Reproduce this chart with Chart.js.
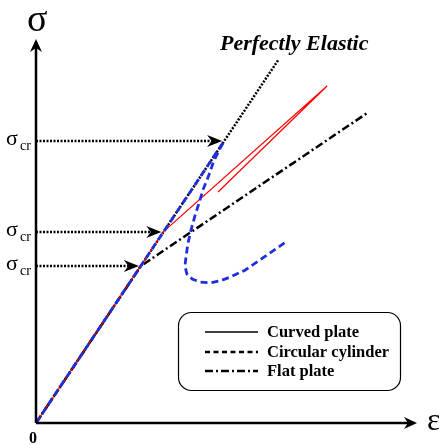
<!DOCTYPE html>
<html>
<head>
<meta charset="utf-8">
<script src="https://cdn.jsdelivr.net/npm/chart.js@4"></script>
<style>
  html, body { margin: 0; padding: 0; background: #fff; }
  #wrap { width: 439px; height: 445px; }
</style>
</head>
<body>
<div id="wrap"><canvas id="chart" width="439" height="445"></canvas></div>
<script>
// strain / stress in arbitrary units (axes have no ticks)
const elasticX = [0, 6.39];
const elasticY = [0, 9.5];

// critical buckling points: top = cylinder, middle = curved plate, low = flat plate
const crStrain = [4.95, 3.35, 2.76];
const crStress = [7.36, 4.99, 4.10];

const curvedX = [0, 3.35, 7.66, 4.79];
const curvedY = [0, 4.99, 8.80, 6.03];

const cylinderX = [0, 4.95, 4.82, 4.66, 4.53, 4.39, 4.29, 4.18, 4.08, 4.00, 3.95, 3.92,
  3.97, 4.11, 4.32, 4.58, 4.84, 5.11, 5.50, 5.97, 6.61];
const cylinderY = [0, 7.36, 7.13, 6.79, 6.42, 6.08, 5.74, 5.40, 5.04, 4.70, 4.36, 4.10,
  3.89, 3.76, 3.68, 3.66, 3.71, 3.81, 3.99, 4.31, 4.75];

const flatX = [0, 2.76, 8.71];
const flatY = [0, 4.10, 8.09];

const legendLabels = ["Curved plate", "Circular cylinder", "Flat plate"];

const pts = (xs, ys) => xs.map((x, i) => ({ x: x, y: ys[i] }));

const serif = '"Liberation Serif", "DejaVu Serif", serif';

function arrowHead(ctx, x, y, angle, len, half) {
  ctx.save();
  ctx.translate(x, y);
  ctx.rotate(angle);
  ctx.beginPath();
  ctx.moveTo(0, 0);
  ctx.lineTo(-len, -half);
  ctx.lineTo(-len * 0.7, 0);
  ctx.lineTo(-len, half);
  ctx.closePath();
  ctx.fill();
  ctx.restore();
}

const decor = {
  id: "decor",
  afterDatasetsDraw(chart) {
    const ctx = chart.ctx;
    const xs = chart.scales.x;
    const ys = chart.scales.y;
    const x0 = xs.getPixelForValue(0);
    const y0 = ys.getPixelForValue(0);
    ctx.save();
    ctx.fillStyle = "#000";
    ctx.strokeStyle = "#000";

    // axes
    ctx.lineWidth = 2.5;
    ctx.setLineDash([]);
    ctx.beginPath();
    ctx.moveTo(x0, y0);
    ctx.lineTo(x0, 42);
    ctx.moveTo(x0, y0);
    ctx.lineTo(414, y0);
    ctx.stroke();
    arrowHead(ctx, x0, 39, -Math.PI / 2, 13, 6);
    arrowHead(ctx, 417, y0, 0, 13, 6);

    // arrowheads for sigma_cr lines
    crStrain.forEach((s, i) => {
      const px = xs.getPixelForValue(s);
      const py = ys.getPixelForValue(crStress[i]);
      arrowHead(ctx, px - 2, py, 0, 15, 6);
    });

    // sigma_cr labels
    ctx.textBaseline = "alphabetic";
    ctx.textAlign = "left";
    crStress.forEach((v) => {
      const py = ys.getPixelForValue(v);
      ctx.font = "22px " + serif;
      ctx.fillText("σ", 6, py + 4);
      ctx.font = "14px " + serif;
      ctx.fillText("cr", 20, py + 9);
    });

    ctx.font = "38px " + serif;
    ctx.fillText("σ", 27, 31);
    ctx.font = "32px " + serif;
    ctx.fillText("ε", 427, 430);
    ctx.font = "bold 16px " + serif;
    ctx.fillText("0", 29, 443);
    ctx.font = "italic bold 22px " + serif;
    ctx.fillText("Perfectly Elastic", 220, 50);

    // legend box
    ctx.lineWidth = 1.2;
    ctx.beginPath();
    ctx.roundRect(178.5, 312.5, 222, 78, 13);
    ctx.stroke();

    const styles = [
      { dash: [], w: 1.5 },
      { dash: [5, 3.5], w: 2.5 },
      { dash: [8, 3, 2, 3], w: 2.5 }
    ];
    const rowY = [332, 352, 371];
    ctx.font = "bold 16.5px " + serif;
    legendLabels.forEach((lab, i) => {
      ctx.lineWidth = styles[i].w;
      ctx.setLineDash(styles[i].dash);
      ctx.beginPath();
      ctx.moveTo(205, rowY[i]);
      ctx.lineTo(258, rowY[i]);
      ctx.stroke();
      ctx.setLineDash([]);
      ctx.fillText(lab, 267, rowY[i] + 5);
    });
    ctx.restore();
  }
};

const arrowSets = crStrain.map((s, i) => ({
  data: [{ x: 0, y: crStress[i] }, { x: s - 0.3, y: crStress[i] }],
  borderColor: "#000",
  borderWidth: 2.5,
  borderDash: [2, 1.5],
  order: 4
}));

new Chart(document.getElementById("chart"), {
  type: "scatter",
  data: {
    datasets: [
      {
        label: "Circular cylinder",
        data: pts(cylinderX, cylinderY),
        borderColor: "#1f2fe0",
        borderWidth: 2.8,
        borderDash: [7, 4],
        order: 0
      },
      {
        label: "Curved plate",
        data: pts(curvedX, curvedY),
        borderColor: "#ff0000",
        borderWidth: 1.2,
        order: 1
      },
      {
        label: "Flat plate",
        data: pts(flatX, flatY),
        borderColor: "#000",
        borderWidth: 2.5,
        borderDash: [8, 3, 2, 3],
        order: 2
      },
      {
        label: "Perfectly Elastic",
        data: pts(elasticX, elasticY),
        borderColor: "#000",
        borderWidth: 2.5,
        borderDash: [2, 1.5],
        order: 3
      },
      ...arrowSets
    ].map((d) => Object.assign({ showLine: true, pointRadius: 0, tension: 0, clip: false }, d))
  },
  options: {
    responsive: false,
    animation: false,
    layout: { padding: { left: 36, right: 23, top: 40, bottom: 22 } },
    scales: {
      x: { type: "linear", min: 0, max: 10, display: false },
      y: { type: "linear", min: 0, max: 10, display: false }
    },
    plugins: { legend: { display: false }, tooltip: { enabled: false } }
  },
  plugins: [decor]
});
</script>
</body>
</html>
